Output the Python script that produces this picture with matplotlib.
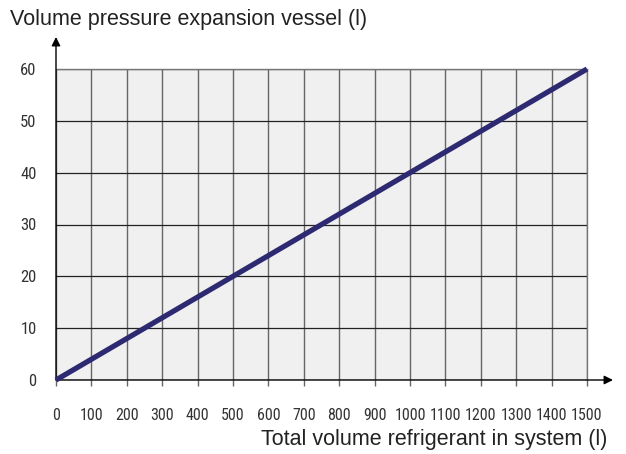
import matplotlib
matplotlib.use("Agg")
import matplotlib.pyplot as plt

# data
refrigerant = [0, 1500]
vessel = [0, 60]
x_ticks = list(range(0, 1501, 100))
y_ticks = list(range(0, 61, 10))

W, H = 626, 454
fig = plt.figure(figsize=(W / 100, H / 100), dpi=100)
# plot box in pixel terms: x 56..587, y 69..380 (top-down)
ax = fig.add_axes([56 / W, (H - 380) / H, (587 - 56) / W, (380 - 69) / H])
ax.set_facecolor('#f0f0f0')

ax.plot(refrigerant, vessel, color='#2d2a72', linewidth=3.8, solid_capstyle='butt',
        zorder=5, clip_on=False)

ax.set_xlim(0, 1500)
ax.set_ylim(0, 60)
ax.set_xticks(x_ticks)
ax.set_yticks(y_ticks)
ax.xaxis.grid(True, color='#666666', linewidth=1.0)
ax.yaxis.grid(True, color='#222222', linewidth=0.9)
ax.set_axisbelow(True)

narrow = ['Roboto Condensed', 'DejaVu Sans']
ax.tick_params(axis='x', length=4, width=1.0, color='#666666', pad=16, labelsize=11.5)
ax.tick_params(axis='y', length=0, pad=14, labelsize=12)
for lab in ax.get_xticklabels() + ax.get_yticklabels():
    lab.set_family(narrow)
    lab.set_color('#333333')

for s in ['top', 'right']:
    ax.spines[s].set_color('#777777')
    ax.spines[s].set_linewidth(1.0)
for s in ['left', 'bottom']:
    ax.spines[s].set_visible(False)

# axis arrows
ax.annotate('', xy=(613 / W, (H - 380) / H), xytext=(56 / W, (H - 380) / H),
            xycoords='figure fraction',
            arrowprops=dict(arrowstyle='-|>', color='black', lw=1.0,
                            mutation_scale=13, shrinkA=0, shrinkB=0))
ax.annotate('', xy=(56 / W, (H - 37) / H), xytext=(56 / W, (H - 380) / H),
            xycoords='figure fraction',
            arrowprops=dict(arrowstyle='-|>', color='black', lw=1.0,
                            mutation_scale=13, shrinkA=0, shrinkB=0))

fig.text(10 / W, 1 - 19 / H, 'Volume pressure expansion vessel (l)', fontsize=15.5,
         family=['Liberation Sans', 'DejaVu Sans'], color='#222222', va='center', ha='left')
fig.text(607 / W, 1 - 440 / H, 'Total volume refrigerant in system (l)', fontsize=15.5,
         family=['Liberation Sans', 'DejaVu Sans'], color='#222222', va='center', ha='right')

fig.savefig('out.png', dpi=100)
